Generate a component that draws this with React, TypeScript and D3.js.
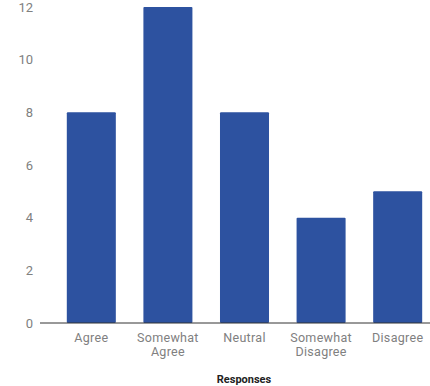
import { useEffect, useRef } from "react";
import * as d3 from "d3";

const categories = ["Agree", "Somewhat Agree", "Neutral", "Somewhat Disagree", "Disagree"];
const labelLines = [["Agree"], ["Somewhat", "Agree"], ["Neutral"], ["Somewhat", "Disagree"], ["Disagree"]];
const counts = [8, 12, 8, 4, 5];
const yTicks = [0, 2, 4, 6, 8, 10, 12];

const App = () => {
  const ref = useRef<SVGSVGElement>(null);

  useEffect(() => {
    const svg = d3.select(ref.current);
    svg.selectAll("*").remove();

    const width = 430;
    const height = 386;
    const font = "Roboto, sans-serif";

    const x = d3.scaleBand().domain(categories).range([40, 449]).paddingInner(0.36).paddingOuter(0.35);
    const y = d3.scaleLinear().domain([0, 12]).range([323, 7]);

    svg.attr("width", width).attr("height", height);

    // bars
    svg
      .selectAll("rect.bar")
      .data(categories)
      .enter()
      .append("rect")
      .attr("class", "bar")
      .attr("x", (d) => x(d)!)
      .attr("y", (d, i) => y(counts[i]))
      .attr("width", x.bandwidth())
      .attr("height", (d, i) => y(0) - y(counts[i]))
      .attr("rx", 1)
      .attr("fill", "#2d52a0");

    // y tick labels
    svg
      .selectAll("text.ytick")
      .data(yTicks)
      .enter()
      .append("text")
      .attr("x", 33)
      .attr("y", (d) => y(d))
      .attr("dy", "0.35em")
      .attr("text-anchor", "end")
      .attr("font-family", font)
      .attr("font-size", 13)
      .attr("fill", "#808080")
      .text((d) => d);

    // baseline
    svg
      .append("line")
      .attr("x1", 40)
      .attr("x2", width)
      .attr("y1", y(0))
      .attr("y2", y(0))
      .attr("stroke", "#333")
      .attr("stroke-width", 1);

    // category labels, one text per line
    categories.forEach((c, i) => {
      labelLines[i].forEach((t, j) => {
        svg
          .append("text")
          .attr("x", x(c)! + x.bandwidth() / 2)
          .attr("y", 342 + j * 13.5)
          .attr("text-anchor", "middle")
          .attr("font-family", font)
          .attr("font-size", 12.5)
          .attr("letter-spacing", 0.3)
          .attr("fill", "#808080")
          .text(t);
      });
    });

    // axis title
    svg
      .append("text")
      .attr("x", 244)
      .attr("y", 383)
      .attr("text-anchor", "middle")
      .attr("font-family", font)
      .attr("font-size", 11)
      .attr("font-weight", "bold")
      .attr("fill", "#222")
      .text("Responses");
  }, []);

  return <svg ref={ref} style={{ position: "absolute", left: 0, top: 0 }}></svg>;
};

export default App;
